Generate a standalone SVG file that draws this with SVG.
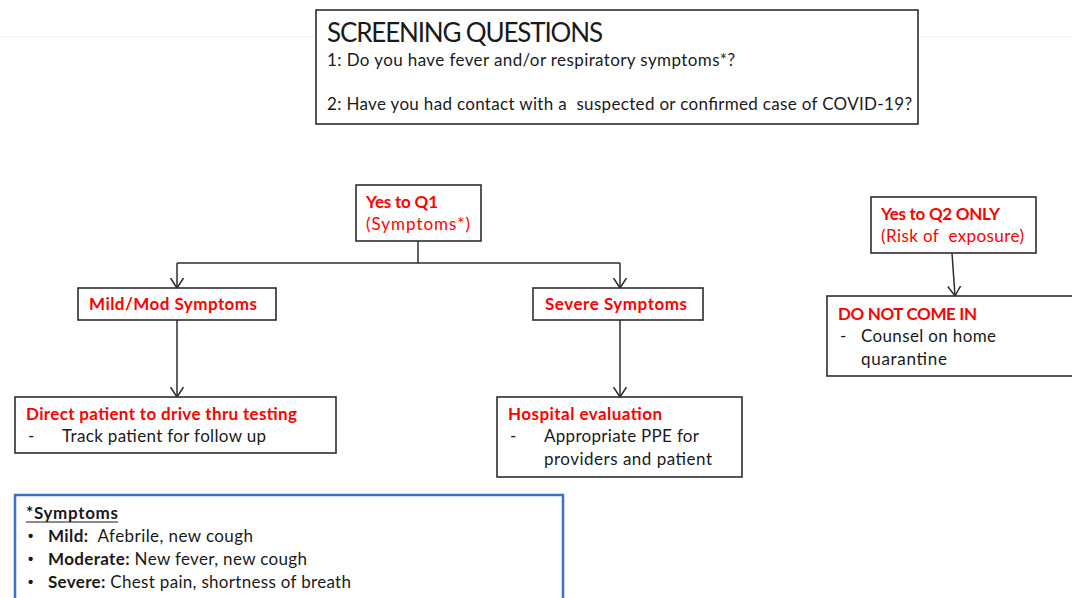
<svg xmlns="http://www.w3.org/2000/svg" width="1072" height="598" viewBox="0 0 1072 598">
<style>
text{font-family:Lato,"Liberation Sans",Arial,sans-serif;font-size:17px;fill:#1a1a1a}
.box{fill:#fff;stroke:#2e2e2e;stroke-width:1.6}
.red{fill:#ff0000}
.b{font-weight:bold}
.title{font-size:26px}
.bul{font-family:"Liberation Sans",Arial,sans-serif;font-size:15px;font-weight:bold}
.conn{fill:none;stroke:#2e2e2e;stroke-width:1.5}
</style>
<defs>
<marker id="arr" markerUnits="userSpaceOnUse" markerWidth="20" markerHeight="20" viewBox="-10 -10 20 20" refX="0" refY="0" orient="auto">
<path d="M-10,-6.5 L0,0 L-10,6.5" fill="none" stroke="#2e2e2e" stroke-width="1.5"/>
</marker>
</defs>
<rect width="1072" height="598" fill="#fff"/>
<line x1="0" y1="37" x2="1072" y2="37" stroke="#efefef" stroke-width="1"/>

<g id="connectors">
<path class="conn" d="M418,241 V263"/>
<path class="conn" d="M177,263 H620"/>
<path class="conn" d="M177,263 V288" marker-end="url(#arr)"/>
<path class="conn" d="M620,263 V288" marker-end="url(#arr)"/>
<path class="conn" d="M177,320 V397" marker-end="url(#arr)"/>
<path class="conn" d="M620,320 V397" marker-end="url(#arr)"/>
<path class="conn" d="M952,253 L955,296" marker-end="url(#arr)"/>
</g>

<g id="screening">
<rect class="box" x="316" y="10" width="602" height="114"/>
<text class="title" x="327" y="42" textLength="276">SCREENING QUESTIONS</text>
<text x="327" y="66" textLength="408">1: Do you have fever and/or respiratory symptoms*?</text>
<text x="327" y="110" textLength="585" xml:space="preserve">2: Have you had contact with a  suspected or confirmed case of COVID-19?</text>
</g>

<g id="yes-q1">
<rect class="box" x="356" y="185" width="125" height="56"/>
<text class="red b" x="366" y="208" textLength="72">Yes to Q1</text>
<text class="red" x="366" y="230" textLength="104">(Symptoms*)</text>
</g>

<g id="mild-mod">
<rect class="box" x="78" y="288" width="198" height="32"/>
<text class="red b" x="89" y="310" textLength="168">Mild/Mod Symptoms</text>
</g>

<g id="severe">
<rect class="box" x="533" y="288" width="170" height="32"/>
<text class="red b" x="545" y="310" textLength="142">Severe Symptoms</text>
</g>

<g id="drive-thru">
<rect class="box" x="15" y="397" width="321" height="56"/>
<text class="red b" x="26" y="420" textLength="271">Direct patient to drive thru testing</text>
<text x="28" y="442">-</text>
<text x="62" y="442" textLength="204">Track patient for follow up</text>
</g>

<g id="hospital">
<rect class="box" x="497" y="397" width="245" height="80"/>
<text class="red b" x="508" y="420" textLength="154">Hospital evaluation</text>
<text x="510" y="442">-</text>
<text x="544" y="442" textLength="155">Appropriate PPE for</text>
<text x="544" y="465" textLength="168">providers and patient</text>
</g>

<g id="yes-q2">
<rect class="box" x="871" y="197" width="165" height="56"/>
<text class="red b" x="881" y="220" textLength="119">Yes to Q2 ONLY</text>
<text class="red" x="881" y="242" textLength="143" xml:space="preserve">(Risk of  exposure)</text>
</g>

<g id="do-not-come">
<rect class="box" x="827" y="296" width="250" height="80"/>
<text class="red b" x="838" y="320" textLength="139">DO NOT COME IN</text>
<text x="840" y="342">-</text>
<text x="861" y="342" textLength="135">Counsel on home</text>
<text x="861" y="365" textLength="86">quarantine</text>
</g>

<g id="symptoms-legend">
<rect x="15" y="495" width="548" height="115" fill="#fff" stroke="#3d72c2" stroke-width="2.5"/>
<text class="b" x="26" y="519" textLength="92">*Symptoms</text>
<line x1="26" y1="522" x2="118" y2="522" stroke="#1a1a1a" stroke-width="1.2"/>
<text class="bul" x="28" y="541">•</text>
<text x="48" y="542" textLength="205" xml:space="preserve"><tspan class="b">Mild:</tspan>  Afebrile, new cough</text>
<text class="bul" x="28" y="564">•</text>
<text x="48" y="565" textLength="259"><tspan class="b">Moderate:</tspan> New fever, new cough</text>
<text class="bul" x="28" y="587">•</text>
<text x="48" y="588" textLength="303"><tspan class="b">Severe:</tspan> Chest pain, shortness of breath</text>
</g>
</svg>
